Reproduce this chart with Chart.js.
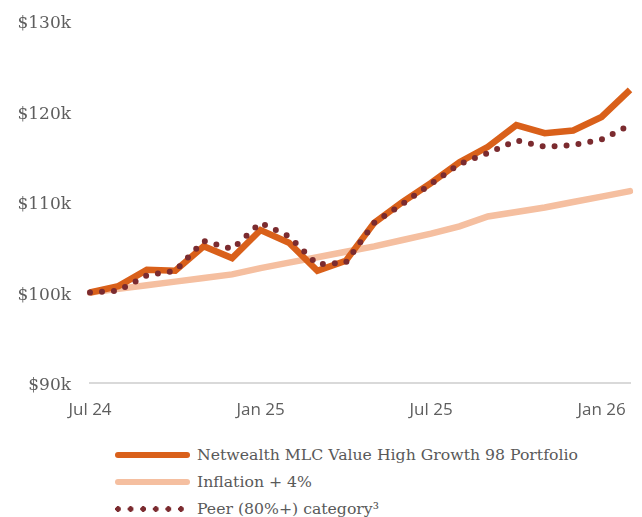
<!DOCTYPE html>
<html>
<head>
<meta charset="utf-8">
<script src="https://cdn.jsdelivr.net/npm/chart.js@4.4.1/dist/chart.umd.min.js"></script>
<style>
  html, body { margin: 0; padding: 0; background: #fff; overflow: hidden; }
  #wrap { position: relative; width: 642px; height: 517px; }
  #growth-chart { position: absolute; left: 0; top: 0; }
  #legend { position: absolute; left: 115px; top: 441px; font-family: "DejaVu Serif", serif; font-size: 15.7px; color: #595959; }
  .row { height: 27px; display: flex; align-items: center; white-space: nowrap; }
  .swatch { width: 75px; height: 6px; margin-right: 7px; border-radius: 3px; flex: none; }
  .dots { border-radius: 0; background-size: 12.6px 6px; background-repeat: repeat-x; }
</style>
</head>
<body>
<div id="wrap">
  <canvas id="growth-chart" width="642" height="425"></canvas>
  <div id="legend"></div>
</div>
<script>
// monthly values of $100k invested, in $k
const months = ['Jul 24', 'Aug 24', 'Sep 24', 'Oct 24', 'Nov 24', 'Dec 24',
	'Jan 25', 'Feb 25', 'Mar 25', 'Apr 25', 'May 25', 'Jun 25',
	'Jul 25', 'Aug 25', 'Sep 25', 'Oct 25', 'Nov 25', 'Dec 25',
	'Jan 26', 'Feb 26'];
const shownMonths = ['Jul 24', 'Jan 25', 'Jul 25', 'Jan 26'];
const yTicks = [90, 100, 110, 120, 130];

const portfolio = [100, 100.7, 102.5, 102.4, 105.1, 103.8, 106.9, 105.5, 102.4, 103.5,
	107.7, 110.0, 112.1, 114.4, 116.1, 118.5, 117.6, 117.9, 119.4, 122.4];
const inflation = [100, 100.4, 100.8, 101.2, 101.6, 102.0, 102.7, 103.3, 103.9, 104.5,
	105.1, 105.8, 106.5, 107.3, 108.4, 108.9, 109.4, 110.0, 110.6, 111.2];
const peer = [100, 100.2, 101.9, 102.4, 105.7, 104.8, 107.7, 106.2, 103.1, 103.3,
	107.7, 109.8, 112.0, 114.2, 115.4, 116.8, 116.1, 116.3, 116.9, 118.5];

const seriesNames = ['Netwealth MLC Value High Growth 98 Portfolio', 'Inflation + 4%', 'Peer (80%+) category³'];
const colours = {
	portfolio: '#d9601a',
	inflation: '#f5bfa0',
	peer: '#7b2b2f'
};

const canvasHeight = 425;
const plotBottom = 383;

const data = {
	labels: months,
	datasets: [{
		label: seriesNames[0],
		data: portfolio,
		borderColor: colours.portfolio,
		borderWidth: 6.5,
		order: 1
	},
	{
		label: seriesNames[1],
		data: inflation,
		borderColor: colours.inflation,
		borderWidth: 6.5,
		borderCapStyle: 'round',
		order: 2
	},
	{
		label: seriesNames[2],
		data: peer,
		borderColor: colours.peer,
		borderWidth: 6,
		borderDash: [0, 12],
		borderCapStyle: 'round',
		order: 0
	}]
};

const config = {
	type: 'line',
	data,
	options: {
		responsive: false,
		animation: false,
		devicePixelRatio: 1,
		layout: {
			padding: { top: 21, right: 12, left: 0, bottom: 0 }
		},
		elements: {
			point: { radius: 0 },
			line: { tension: 0, fill: false }
		},
		plugins: {
			legend: { display: false },
			tooltip: { enabled: false }
		},
		scales: {
			x: {
				grid: { display: false, drawTicks: false },
				border: { display: true, color: '#d9d9d9', width: 2 },
				afterFit: scale => {
					scale.height = canvasHeight - plotBottom;
					// tick padding shouldn't push the plot edges in
					scale.paddingLeft = 0;
					scale.paddingRight = 0;
				},
				ticks: {
					autoSkip: false,
					maxRotation: 0,
					padding: 17,
					color: '#5e5e5e',
					font: { family: 'Open Sans', size: 17 },
					callback: (val, i) => shownMonths.includes(months[i]) ? months[i] : ''
				}
			},
			y: {
				min: 90,
				max: 130,
				grid: { display: false, drawTicks: false },
				border: { display: false },
				afterFit: scale => {
					scale.width = 90;
					scale.paddingTop = 0;
					scale.paddingBottom = 0;
				},
				afterBuildTicks: axis => { axis.ticks = yTicks.map(v => ({ value: v })); },
				ticks: {
					padding: 19,
					labelOffset: 3,
					color: '#5e5e5e',
					font: { family: 'DejaVu Serif', size: 17 },
					callback: v => '$' + v + 'k'
				}
			}
		}
	}
};

const growthChart = new Chart(document.getElementById('growth-chart'), config);

// legend, one series per row
const legend = document.getElementById('legend');
const swatchStyles = [
	'background:' + colours.portfolio,
	'background:' + colours.inflation,
	'background-image:radial-gradient(circle at 3px 3px,' + colours.peer + ' 2.6px,transparent 3px)'
];
seriesNames.forEach((name, i) => {
	const row = document.createElement('div');
	row.className = 'row';
	const sw = document.createElement('span');
	sw.className = 'swatch' + (i === 2 ? ' dots' : '');
	sw.setAttribute('style', swatchStyles[i]);
	const txt = document.createElement('span');
	txt.textContent = name;
	row.appendChild(sw);
	row.appendChild(txt);
	legend.appendChild(row);
});
</script>
</body>
</html>
